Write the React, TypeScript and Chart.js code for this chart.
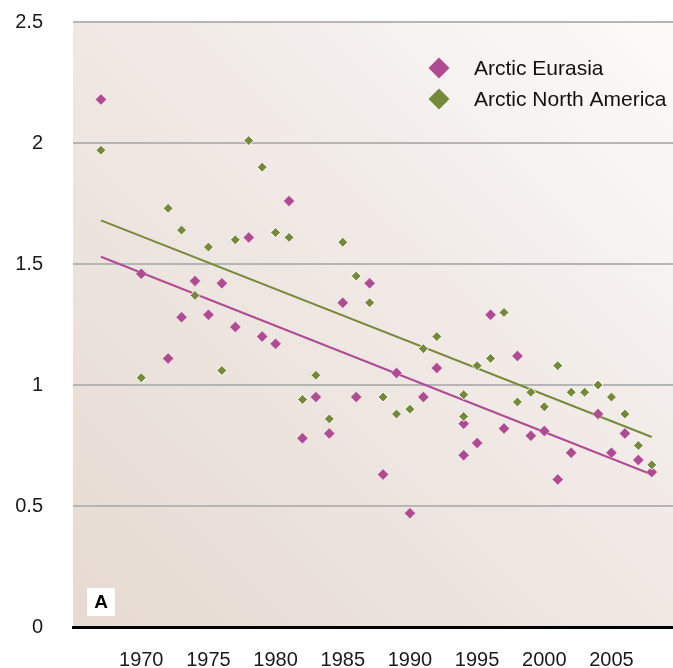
import React, { useEffect, useRef } from "react";
import { Chart, registerables } from "chart.js";

Chart.register(...registerables);

const seriesNames = ["Arctic Eurasia", "Arctic North America"];
const colors = ["#b04b93", "#758a38"];

const eurasiaYears = [1967, 1970, 1972, 1973, 1974, 1975, 1976, 1977, 1978, 1979, 1980, 1981, 1982, 1983, 1984, 1985, 1986, 1987, 1988, 1989, 1990, 1991, 1992, 1994, 1994, 1995, 1996, 1997, 1998, 1999, 2000, 2001, 2002, 2004, 2005, 2006, 2007, 2008];
const eurasiaValues = [2.18, 1.46, 1.11, 1.28, 1.43, 1.29, 1.42, 1.24, 1.61, 1.2, 1.17, 1.76, 0.78, 0.95, 0.8, 1.34, 0.95, 1.42, 0.63, 1.05, 0.47, 0.95, 1.07, 0.84, 0.71, 0.76, 1.29, 0.82, 1.12, 0.79, 0.81, 0.61, 0.72, 0.88, 0.72, 0.8, 0.69, 0.64];

const northAmericaYears = [1967, 1970, 1972, 1973, 1974, 1975, 1976, 1977, 1978, 1979, 1980, 1981, 1982, 1983, 1984, 1985, 1986, 1987, 1988, 1989, 1990, 1991, 1992, 1994, 1994, 1995, 1996, 1997, 1998, 1999, 2000, 2001, 2002, 2003, 2004, 2005, 2006, 2007, 2008];
const northAmericaValues = [1.97, 1.03, 1.73, 1.64, 1.37, 1.57, 1.06, 1.6, 2.01, 1.9, 1.63, 1.61, 0.94, 1.04, 0.86, 1.59, 1.45, 1.34, 0.95, 0.88, 0.9, 1.15, 1.2, 0.96, 0.87, 1.08, 1.11, 1.3, 0.93, 0.97, 0.91, 1.08, 0.97, 0.97, 1.0, 0.95, 0.88, 0.75, 0.67];

const trendYears = [1967, 2008];
const eurasiaTrend = [1.53, 0.63];
const northAmericaTrend = [1.68, 0.785];

const xTicks = [1970, 1975, 1980, 1985, 1990, 1995, 2000, 2005];
const yTicks = [0, 0.5, 1, 1.5, 2, 2.5];
const panelLabel = "A";

const toPoints = (xs: number[], ys: number[]) => xs.map((x, i) => ({ x, y: ys[i] }));

const FONT = "'Liberation Sans', Arial, Helvetica, sans-serif";

const backgroundPlugin = {
  id: "bgGradient",
  beforeDraw(chart: any) {
    const { ctx, chartArea } = chart;
    if (!chartArea) return;
    const { left, right, top, bottom } = chartArea;
    const g = ctx.createLinearGradient(left, bottom, right, top);
    g.addColorStop(0, "#e6dad1");
    g.addColorStop(0.55, "#f0e9e5");
    g.addColorStop(1, "#fcfbfa");
    ctx.save();
    ctx.fillStyle = g;
    ctx.fillRect(left, top, right - left, bottom - top);
    ctx.restore();
  },
};

const overlayPlugin = {
  id: "overlay",
  afterDraw(chart: any) {
    const { ctx, chartArea } = chart;
    if (!chartArea) return;
    ctx.save();
    const lx = chartArea.right - 234;
    const ly = chartArea.top + 46;
    const r = 10.5;
    seriesNames.forEach((name, i) => {
      const cy = ly + i * 31;
      ctx.beginPath();
      ctx.moveTo(lx - r, cy);
      ctx.lineTo(lx, cy - r);
      ctx.lineTo(lx + r, cy);
      ctx.lineTo(lx, cy + r);
      ctx.closePath();
      ctx.fillStyle = colors[i];
      ctx.fill();
      ctx.fillStyle = "#111";
      ctx.font = `21px ${FONT}`;
      ctx.textAlign = "left";
      ctx.textBaseline = "middle";
      ctx.fillText(name, lx + 35, cy + 1);
    });
    const bx = chartArea.left + 14;
    const by = chartArea.bottom - 39;
    ctx.fillStyle = "#ffffff";
    ctx.fillRect(bx, by, 28, 28);
    ctx.fillStyle = "#000";
    ctx.font = `bold 19px ${FONT}`;
    ctx.textAlign = "center";
    ctx.textBaseline = "middle";
    ctx.fillText(panelLabel, bx + 14, by + 15);
    ctx.restore();
  },
};

export default function App() {
  const ref = useRef<HTMLCanvasElement | null>(null);

  useEffect(() => {
    if (!ref.current) return;
    const chart = new Chart(ref.current, {
      type: "scatter",
      data: {
        datasets: [
          {
            label: seriesNames[1],
            data: toPoints(northAmericaYears, northAmericaValues),
            backgroundColor: colors[1],
            borderColor: "#ffffff",
            borderWidth: 1,
            pointStyle: "rectRot",
            pointRadius: 5,
          },
          {
            label: seriesNames[0],
            data: toPoints(eurasiaYears, eurasiaValues),
            backgroundColor: colors[0],
            borderColor: "rgba(255,255,255,0.6)",
            borderWidth: 0.5,
            pointStyle: "rectRot",
            pointRadius: 5.5,
          },
          {
            label: seriesNames[0] + " trend",
            data: toPoints(trendYears, eurasiaTrend),
            showLine: true,
            borderColor: colors[0],
            borderWidth: 2,
            pointRadius: 0,
            fill: false,
          },
          {
            label: seriesNames[1] + " trend",
            data: toPoints(trendYears, northAmericaTrend),
            showLine: true,
            borderColor: colors[1],
            borderWidth: 2,
            pointRadius: 0,
            fill: false,
          },
        ],
      },
      options: {
        responsive: false,
        animation: false,
        layout: { padding: { top: 22, right: 0, left: 0, bottom: 0 } },
        plugins: {
          legend: { display: false },
          tooltip: { enabled: false },
        },
        scales: {
          x: {
            type: "linear",
            min: 1964.92,
            max: 2009.58,
            afterBuildTicks: (scale: any) => {
              scale.ticks = xTicks.map((v) => ({ value: v }));
            },
            afterFit: (scale: any) => {
              scale.height = 41;
              scale.paddingLeft = 0;
              scale.paddingRight = 0;
            },
            grid: { display: false, drawTicks: false },
            border: { display: true, color: "#000", width: 3 },
            ticks: {
              color: "#1a1a1a",
              padding: 21,
              maxRotation: 0,
              autoSkip: false,
              font: { family: FONT, size: 20 },
              callback: (v: any) => String(v),
            },
          },
          y: {
            type: "linear",
            min: 0,
            max: 2.5,
            afterBuildTicks: (scale: any) => {
              scale.ticks = yTicks.map((v) => ({ value: v }));
            },
            afterFit: (scale: any) => {
              scale.width = 73;
              scale.paddingTop = 0;
              scale.paddingBottom = 0;
            },
            grid: {
              display: true,
              drawTicks: false,
              color: (c: any) => (c.tick && c.tick.value === 0 ? "rgba(0,0,0,0)" : "#b5b5b5"),
              lineWidth: 2,
            },
            border: { display: false },
            ticks: {
              color: "#1a1a1a",
              padding: 30,
              font: { family: FONT, size: 20 },
              callback: (v: any) => String(v),
            },
          },
        },
      },
      plugins: [backgroundPlugin, overlayPlugin],
    });
    return () => chart.destroy();
  }, []);

  return (
    <div style={{ position: "fixed", left: 0, top: 0, width: 673, height: 668, background: "#fff", overflow: "hidden" }}>
      <canvas ref={ref} width={679} height={668} />
    </div>
  );
}
